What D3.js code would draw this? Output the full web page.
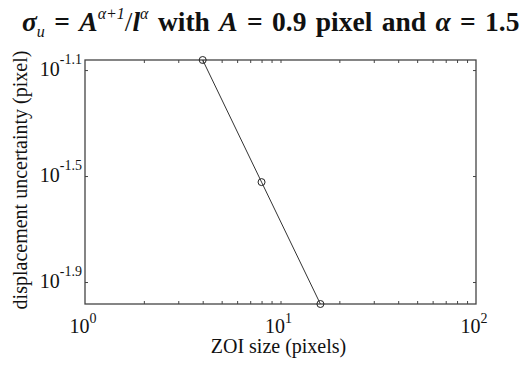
<!DOCTYPE html>
<html>
<head>
<meta charset="utf-8">
<script src="https://cdn.jsdelivr.net/npm/d3@7/dist/d3.min.js"></script>
<style>
  body { margin: 0; background: #fff; }
  text { font-family: "Liberation Serif", "Times New Roman", serif; fill: #111; }
</style>
</head>
<body>
<div id="chart"></div>
<script>
// data
var zoiSize = [4, 8, 16];
var uncertainty = [0.0867, 0.0300, 0.0104];
var xTickExps = [0, 1, 2];
var yTickExps = [-1.1, -1.5, -1.9];
var xMinorTicks = [2, 3, 4, 5, 6, 7, 8, 9, 10, 20, 30, 40, 50, 60, 70, 80, 90];

var svgWidth = 527, svgHeight = 367;
var margin = { top: 60, right: 51, bottom: 63, left: 85 };
var chartWidth = svgWidth - margin.left - margin.right;
var chartHeight = svgHeight - margin.top - margin.bottom;

var svg = d3.select("#chart").append("svg")
    .attr("width", svgWidth)
    .attr("height", svgHeight);

var chartGroup = svg.append("g")
    .attr("transform", `translate(${margin.left}, ${margin.top})`);

var xScale = d3.scaleLog().domain([1, 100]).range([0, chartWidth]);
var yScale = d3.scaleLog().domain(d3.extent(uncertainty)).range([chartHeight, 0]);

var axisColor = "#444";

// ticks, pointing inward, on all four sides
function styleAxis(g) {
    g.select(".domain").remove();
    g.selectAll("line").attr("stroke", axisColor);
}
chartGroup.append("g")
    .attr("transform", `translate(0, ${chartHeight})`)
    .call(d3.axisBottom(xScale).tickValues(xMinorTicks).tickSize(-3).tickFormat(""))
    .call(styleAxis);
chartGroup.append("g")
    .call(d3.axisTop(xScale).tickValues(xMinorTicks).tickSize(-3).tickFormat(""))
    .call(styleAxis);
var yTickVals = yTickExps.map(e => Math.pow(10, e));
chartGroup.append("g")
    .call(d3.axisLeft(yScale).tickValues(yTickVals).tickSize(-3).tickFormat(""))
    .call(styleAxis);
chartGroup.append("g")
    .attr("transform", `translate(${chartWidth}, 0)`)
    .call(d3.axisRight(yScale).tickValues(yTickVals).tickSize(-3).tickFormat(""))
    .call(styleAxis);

// box
chartGroup.append("rect")
    .attr("width", chartWidth)
    .attr("height", chartHeight)
    .attr("fill", "none")
    .attr("stroke", axisColor)
    .attr("stroke-width", 1.3);

// tick labels 10^n
var xLabels = chartGroup.selectAll(".xlab")
    .data(xTickExps)
    .enter()
    .append("text")
    .attr("class", "xlab")
    .attr("x", d => xScale(Math.pow(10, d)) - 2)
    .attr("y", chartHeight + 29)
    .attr("text-anchor", "middle")
    .style("font-size", "20px");
xLabels.append("tspan").text("10");
xLabels.append("tspan").attr("dy", -10).style("font-size", "14px").text(d => d);

var yLabels = chartGroup.selectAll(".ylab")
    .data(yTickExps)
    .enter()
    .append("text")
    .attr("class", "ylab")
    .attr("x", -3)
    .attr("y", d => yScale(Math.pow(10, d)) + 6)
    .attr("text-anchor", "end")
    .style("font-size", "20px");
yLabels.append("tspan").text("10");
yLabels.append("tspan").attr("dy", -12).style("font-size", "14px").text(d => d.toFixed(1));

// axis titles
chartGroup.append("text")
    .attr("x", chartWidth / 2 - 2)
    .attr("y", chartHeight + 49)
    .attr("text-anchor", "middle")
    .style("font-size", "20px")
    .text("ZOI size (pixels)");

chartGroup.append("text")
    .attr("transform", "rotate(-90)")
    .attr("x", -120)
    .attr("y", -58)
    .attr("text-anchor", "middle")
    .style("font-size", "20px")
    .text("displacement uncertainty (pixel)");

// line + circle markers
var line = d3.line()
    .x((d, i) => xScale(zoiSize[i]))
    .y(d => yScale(d));

chartGroup.append("path")
    .datum(uncertainty)
    .attr("d", line)
    .attr("fill", "none")
    .attr("stroke", "#333")
    .attr("stroke-width", 1);

chartGroup.selectAll(".points")
    .data(uncertainty)
    .enter()
    .append("circle")
    .attr("class", "points")
    .attr("cx", (d, i) => xScale(zoiSize[i]))
    .attr("cy", d => yScale(d))
    .attr("r", 3.5)
    .attr("fill", "none")
    .attr("stroke", "#222")
    .attr("stroke-width", 1);

// title
var title = svg.append("text")
    .attr("x", 22)
    .attr("y", 31)
    .style("font-size", "27.5px")
    .style("font-weight", "bold");
title.append("tspan").style("font-style", "italic").text("σ");
title.append("tspan").attr("dy", 6).style("font-size", "16px").style("font-style", "italic").style("font-weight", "normal").text("u");
title.append("tspan").attr("dy", -6).text(" = ");
title.append("tspan").style("font-style", "italic").text("A");
title.append("tspan").attr("dy", -12).style("font-size", "16px").style("font-style", "italic").style("font-weight", "normal").text("α+1");
title.append("tspan").attr("dy", 12).style("font-weight", "normal").text("/");
title.append("tspan").style("font-style", "italic").text("l");
title.append("tspan").attr("dy", -12).style("font-size", "16px").style("font-style", "italic").style("font-weight", "normal").text("α");
title.append("tspan").attr("dy", 12).text(" with ");
title.append("tspan").style("font-style", "italic").text("A");
title.append("tspan").text(" = 0.9 pixel and  ");
title.append("tspan").style("font-style", "italic").text("α");
title.append("tspan").text(" = 1.5");

// stretch the gaps so the title spans the same width as in the picture
var titleWidth = title.node().getComputedTextLength();
var gaps = 12;
title.style("word-spacing", Math.max(0, (500 - titleWidth) / gaps) + "px");
</script>
</body>
</html>
